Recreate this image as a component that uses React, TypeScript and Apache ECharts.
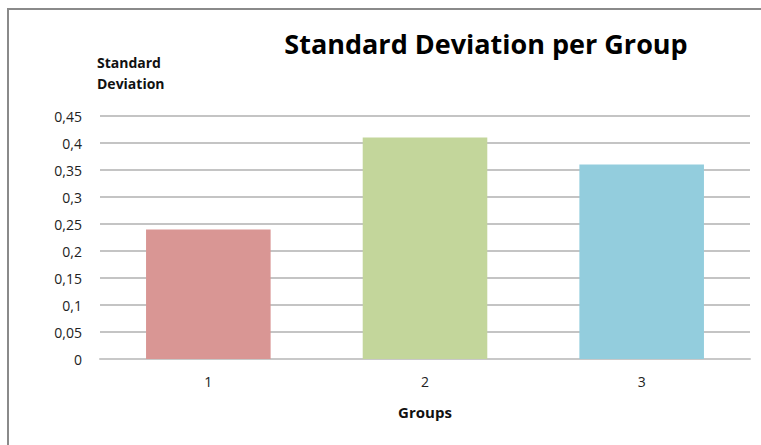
import React, { useEffect, useRef } from "react";
import * as echarts from "echarts";

const categories = ["1", "2", "3"];
const stdDevValues = [0.24, 0.41, 0.36];
const barColors = ["#D99694", "#C3D69B", "#93CDDD"];
const titleText = "Standard Deviation per Group";
const yAxisTitle = "Standard\nDeviation";
const xAxisTitle = "Groups";

const FONT = "'Open Sans', 'Noto Sans', sans-serif";

export default function App() {
  const ref = useRef<HTMLDivElement>(null);
  useEffect(() => {
    if (!ref.current) return;
    const chart = echarts.init(ref.current, null, { renderer: "svg" });
    chart.setOption({
      animation: false,
      backgroundColor: "#ffffff",
      textStyle: { fontFamily: FONT },
      title: {
        text: titleText,
        left: 481,
        top: 25,
        textAlign: "center",
        textStyle: { fontFamily: FONT, fontWeight: "bold", fontSize: 27, color: "#000000" },
      },
      graphic: [
        {
          type: "rect",
          shape: { x: 8, y: 9, width: 900, height: 600 },
          style: { fill: "none", stroke: "#8a8a8a", lineWidth: 2 },
          silent: true,
        },
        {
          type: "text",
          left: 97,
          top: 52,
          style: {
            text: yAxisTitle,
            font: `bold 14px ${FONT}`,
            fill: "#111111",
            lineHeight: 21,
          },
        },
      ],
      grid: { left: 100, right: 11, top: 116, bottom: 86, containLabel: false },
      xAxis: {
        type: "category",
        data: categories,
        name: xAxisTitle,
        nameLocation: "middle",
        nameGap: 45,
        nameTextStyle: { fontFamily: FONT, fontWeight: "bold", fontSize: 15, color: "#111111" },
        axisLine: { show: true, lineStyle: { color: "#c8c8c8", width: 2 } },
        axisTick: { show: false },
        axisLabel: { margin: 15, fontSize: 14, color: "#222222", fontFamily: FONT },
      },
      yAxis: {
        type: "value",
        min: 0,
        max: 0.45,
        interval: 0.05,
        axisLine: { show: false },
        axisTick: { show: false },
        splitLine: { show: true, lineStyle: { color: "#c4c4c4", width: 2 } },
        axisLabel: {
          margin: 18,
          fontSize: 14,
          color: "#222222",
          fontFamily: FONT,
          formatter: (v: number) => String(Math.round(v * 100) / 100).replace(".", ","),
        },
      },
      series: [
        {
          type: "bar",
          data: stdDevValues.map((v, i) => ({ value: v, itemStyle: { color: barColors[i] } })),
          barWidth: "57.5%",
        },
      ],
    });
    return () => chart.dispose();
  }, []);
  return (
    <div
      ref={ref}
      style={{ position: "absolute", left: 0, top: 0, width: 761, height: 445 }}
    />
  );
}
